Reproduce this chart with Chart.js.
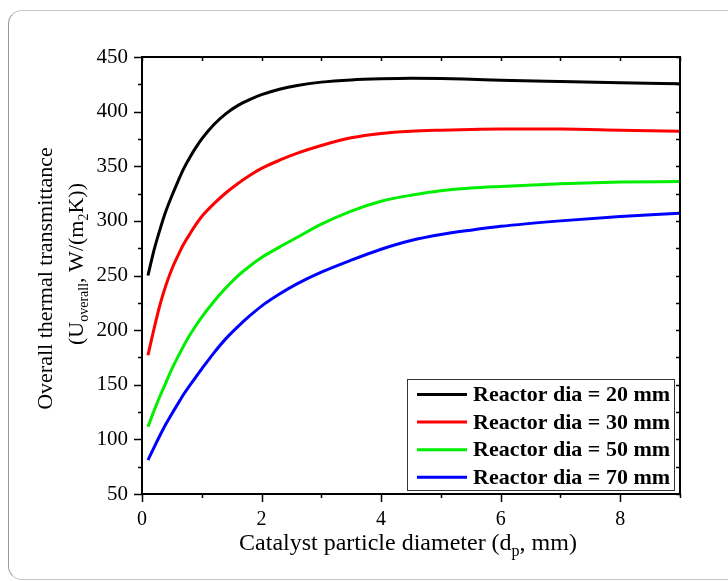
<!DOCTYPE html>
<html><head><meta charset="utf-8">
<script src="https://cdn.jsdelivr.net/npm/chart.js@4.4.0/dist/chart.umd.min.js"></script>
<style>
html,body{margin:0;padding:0;background:#fff;overflow:hidden;width:728px;height:581px;}
#card{position:absolute;left:8px;top:10px;width:760px;height:568px;border:1px solid #c8c8c8;border-left-color:#9a9a9a;border-radius:14px;}
#wrap{position:absolute;left:0;top:0;width:728px;height:581px;}
</style></head><body>
<div id="card"></div>
<div id="wrap"><canvas id="c" width="728" height="581"></canvas></div>
<script>
const xValues = [0.1, 0.2, 0.3, 0.4, 0.5, 0.6, 0.7, 0.8, 0.9, 1.0, 1.2, 1.4, 1.6, 1.8, 2.0, 2.3, 2.6, 3.0, 3.5, 4, 4.5, 5, 5.5, 6, 7, 8, 9];
const dia20 = [250, 273, 292, 309, 323, 336, 348, 358, 367, 375, 388, 398, 405.5, 411, 415.5, 420.5, 424, 427, 429, 430, 430.5, 430.3, 429.6, 428.8, 427.6, 426.5, 425.5];
const dia30 = [177, 201, 223, 241, 256, 268, 279, 288, 296.5, 304, 315.5, 325.5, 334, 341.5, 348, 355.5, 362, 369, 376, 380, 382, 383, 383.7, 384, 384, 383, 382];
const dia50 = [111.5, 126, 139.5, 152, 164.5, 175.5, 186, 195.5, 204, 212, 226, 238.5, 249.5, 258.5, 266.5, 276, 285, 297, 309, 318, 323.5, 327.5, 330, 331.5, 334, 335.5, 336];
const dia70 = [81, 92.5, 103.5, 114, 123.5, 132.5, 141.5, 149.5, 157, 164.5, 179, 192, 203, 213, 222, 233, 242.5, 253, 264, 274, 282, 287.5, 291.5, 295, 300, 304, 307];
const seriesLabels = ['Reactor dia = 20 mm', 'Reactor dia = 30 mm', 'Reactor dia = 50 mm', 'Reactor dia = 70 mm'];
const seriesColors = ['#000000', '#ff0000', '#00ee00', '#0000ff'];
const xTicks = [0, 2, 4, 6, 8];
const yTicks = [50, 100, 150, 200, 250, 300, 350, 400, 450];
const xMinorStep = 1;
const yMinorStep = 25;

const FONT = '"Liberation Serif", "Times New Roman", serif';

function pts(ys) { return xValues.map((x, i) => ({x: x, y: ys[i]})); }

const decor = {
  id: 'decor',
  afterDraw(chart) {
    const ctx = chart.ctx, ca = chart.chartArea;
    const xs = chart.scales.x, ys = chart.scales.y;
    ctx.save();
    ctx.strokeStyle = '#000';
    ctx.lineWidth = 2;
    ctx.strokeRect(ca.left, ca.top, ca.right - ca.left, ca.bottom - ca.top);
    ctx.lineWidth = 1.5;
    ctx.beginPath();
    for (let v = xs.min; v <= xs.max + 1e-9; v += xMinorStep) {
      const p = Math.round(xs.getPixelForValue(v)) + 0.5;
      const major = xTicks.includes(v);
      ctx.moveTo(p, ca.bottom); ctx.lineTo(p, ca.bottom + (major ? 8 : 4));
      ctx.moveTo(p, ca.top); ctx.lineTo(p, ca.top + 4);
    }
    for (let v = ys.min; v <= ys.max + 1e-9; v += yMinorStep) {
      const p = Math.round(ys.getPixelForValue(v)) + 0.5;
      const major = yTicks.includes(v);
      ctx.moveTo(ca.left, p); ctx.lineTo(ca.left - (major ? 8 : 4), p);
      ctx.moveTo(ca.right, p); ctx.lineTo(ca.right - 4, p);
    }
    ctx.stroke();

    // legend
    const lx = 407, ly = 379, lw = 267, lh = 111;
    ctx.fillStyle = '#fff';
    ctx.fillRect(lx, ly, lw, lh);
    ctx.lineWidth = 1;
    ctx.strokeStyle = '#333';
    ctx.strokeRect(lx + 0.5, ly + 0.5, lw, lh);
    ctx.font = 'bold 22px ' + FONT;
    ctx.textBaseline = 'middle';
    ctx.textAlign = 'left';
    chart.data.datasets.forEach((ds, i) => {
      const yy = 394.5 + i * 27.6;
      ctx.strokeStyle = ds.borderColor;
      ctx.lineWidth = 3;
      ctx.beginPath(); ctx.moveTo(417, yy); ctx.lineTo(467, yy); ctx.stroke();
      ctx.fillStyle = '#000';
      ctx.fillText(ds.label, 473, yy + 1);
    });

    // axis titles with subscripts
    function rich(parts, cx, cy, big, small, off) {
      let total = 0;
      parts.forEach(p => { ctx.font = (p.sub ? small : big) + 'px ' + FONT; p.w = ctx.measureText(p.t).width; total += p.w; });
      let x = cx - total / 2;
      ctx.textAlign = 'left';
      ctx.textBaseline = 'alphabetic';
      parts.forEach(p => {
        ctx.font = (p.sub ? small : big) + 'px ' + FONT;
        ctx.fillText(p.t, x, cy + (p.sub ? off : 0));
        x += p.w;
      });
    }
    ctx.fillStyle = '#000';
    rich([{t: 'Catalyst particle diameter (d'}, {t: 'p', sub: true}, {t: ', mm)'}], 408, 550, 24, 16, 6);
    ctx.save();
    ctx.translate(52, 278.5);
    ctx.rotate(-Math.PI / 2);
    rich([{t: 'Overall thermal transmittance'}], 0, 0, 22, 14, 5);
    ctx.restore();
    ctx.save();
    ctx.translate(83, 264);
    ctx.rotate(-Math.PI / 2);
    rich([{t: '(U'}, {t: 'overall', sub: true}, {t: ', W/(m'}, {t: '2', sub: true}, {t: 'K))'}], 0, 0, 22, 14, 5);
    ctx.restore();
    ctx.restore();
  }
};

new Chart(document.getElementById('c'), {
  type: 'line',
  data: {
    datasets: [dia20, dia30, dia50, dia70].map((d, i) => ({
      label: seriesLabels[i],
      data: pts(d),
      borderColor: seriesColors[i],
      backgroundColor: seriesColors[i],
      borderWidth: 3,
      pointRadius: 0,
      cubicInterpolationMode: 'monotone',
      fill: false
    }))
  },
  options: {
    responsive: false,
    animation: false,
    devicePixelRatio: 1,
    layout: {padding: {left: 0, right: 48, top: 57, bottom: 0}},
    plugins: {legend: {display: false}, tooltip: {enabled: false}},
    scales: {
      x: {
        type: 'linear', min: 0, max: 9,
        afterBuildTicks: s => { s.ticks = xTicks.map(v => ({value: v})); },
        afterFit: s => { s.height = 87; },
        grid: {display: false, drawTicks: false},
        border: {display: false},
        ticks: {color: '#000', padding: 14, font: {family: FONT, size: 20}, maxRotation: 0}
      },
      y: {
        type: 'linear', min: 50, max: 450,
        afterBuildTicks: s => { s.ticks = yTicks.map(v => ({value: v})); },
        afterFit: s => { s.width = 142; },
        grid: {display: false, drawTicks: false},
        border: {display: false},
        ticks: {color: '#000', padding: 14, font: {family: FONT, size: 21}}
      }
    }
  },
  plugins: [decor]
});
</script>
</body></html>
